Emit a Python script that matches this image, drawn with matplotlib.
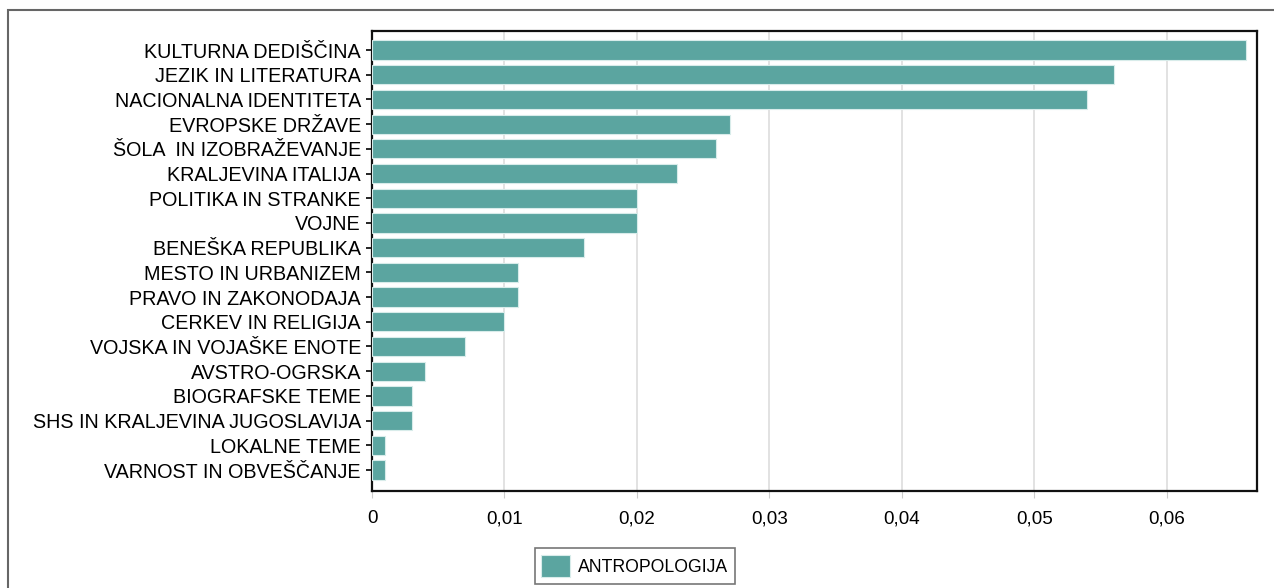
import numpy as np
import matplotlib.pyplot as plt
from matplotlib.patches import Rectangle
from matplotlib.ticker import FuncFormatter

plt.rcParams['font.family'] = ['Liberation Sans', 'DejaVu Sans']

categories = [
    "KULTURNA DEDIŠČINA", "JEZIK IN LITERATURA", "NACIONALNA IDENTITETA",
    "EVROPSKE DRŽAVE", "ŠOLA  IN IZOBRAŽEVANJE", "KRALJEVINA ITALIJA",
    "POLITIKA IN STRANKE", "VOJNE", "BENEŠKA REPUBLIKA",
    "MESTO IN URBANIZEM", "PRAVO IN ZAKONODAJA", "CERKEV IN RELIGIJA",
    "VOJSKA IN VOJAŠKE ENOTE", "AVSTRO-OGRSKA", "BIOGRAFSKE TEME",
    "SHS IN KRALJEVINA JUGOSLAVIJA", "LOKALNE TEME", "VARNOST IN OBVEŠČANJE",
]
values = [0.066, 0.056, 0.054, 0.027, 0.026, 0.023, 0.020, 0.020, 0.016,
          0.011, 0.011, 0.010, 0.007, 0.004, 0.003, 0.003, 0.001, 0.001]
xticks = [0, 0.01, 0.02, 0.03, 0.04, 0.05, 0.06]
series_name = "ANTROPOLOGIJA"

fig = plt.figure(figsize=(12.74, 5.88), dpi=100)
ax = fig.add_axes([372 / 1274, 1 - 491 / 588, (1257 - 372) / 1274, (491 - 31) / 588])

# outer frame of the chart area
fig.patches.append(Rectangle((8 / 1274, -0.05), 1.1, 1 - 10 / 588 + 0.05,
                             transform=fig.transFigure, fill=False,
                             edgecolor='#666666', linewidth=1.5))

y = np.arange(len(categories))
ax.barh(y, values, height=0.78, color='#5ba5a0', edgecolor='#d8ecea',
        linewidth=0.8, label=series_name, zorder=3)

ax.set_yticks(y)
ax.set_yticklabels(categories, fontsize=14.2)
ax.set_ylim(len(categories) - 0.15, -0.77)
ax.set_xlim(0, 0.0668)
ax.set_xticks(xticks)
ax.xaxis.set_major_formatter(FuncFormatter(lambda v, p: "0" if v == 0 else f"{v:.2f}".replace('.', ',')))
ax.tick_params(axis='x', labelsize=13.6, length=5, color='#cccccc', pad=9)
ax.tick_params(axis='y', length=4, width=1.2, color='black', pad=4)
ax.grid(axis='x', color='#dddddd', linewidth=1.2, zorder=0)
for s in ax.spines.values():
    s.set_linewidth(1.6)
    s.set_color('#111111')

leg = fig.legend(loc='center', bbox_to_anchor=(635 / 1274, 1 - 566 / 588),
                 fontsize=12.7, frameon=True, fancybox=False, handlelength=1.6,
                 handleheight=1.6, borderpad=0.35, handletextpad=0.5)
leg.get_frame().set_edgecolor('#555555')
leg.get_frame().set_linewidth(1.2)

fig.savefig("out.png", dpi=100)
